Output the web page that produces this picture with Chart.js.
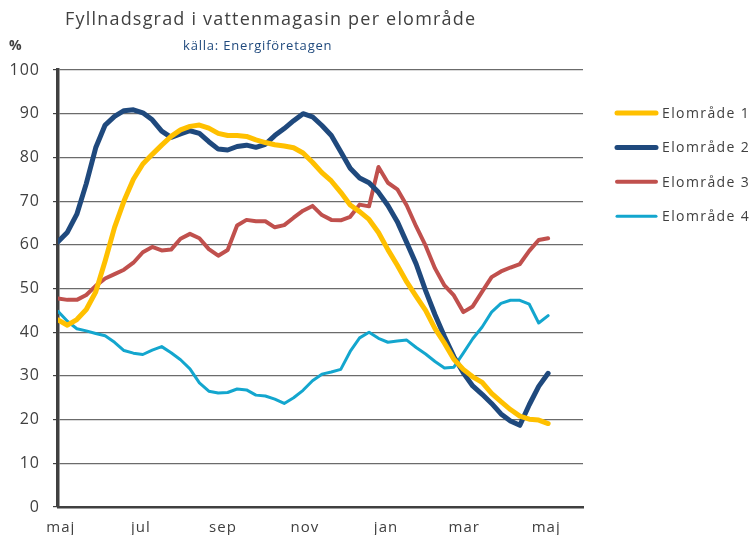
<!DOCTYPE html>
<html>
<head>
<meta charset="utf-8">
<script src="https://cdn.jsdelivr.net/npm/chart.js@4/dist/chart.umd.min.js"></script>
<style>
  html, body { margin: 0; padding: 0; background: #fff; }
  #wrap { width: 751px; height: 535px; position: relative; }
</style>
</head>
<body>
<div id="wrap"><canvas id="chart"></canvas></div>
<script>
// Fyllnadsgrad per vecka, maj -> maj (procent)
const seriesNames = ["Elområde 1", "Elområde 2", "Elområde 3", "Elområde 4"];

const elomrade1 = [42.8, 41.6, 42.9, 45.2, 49.2, 56.3, 64.0, 70.0, 75.0, 78.5,
  80.7, 82.8, 84.8, 86.3, 87.1, 87.4, 86.7, 85.5, 85.0, 85.0,
  84.8, 84.0, 83.4, 82.9, 82.6, 82.2, 81.0, 78.9, 76.5, 74.6,
  72.0, 69.1, 67.6, 65.8, 62.8, 58.9, 55.3, 51.5, 48.2, 45.0,
  40.8, 37.5, 33.8, 31.5, 29.8, 28.5, 26.0, 24.1, 22.3, 20.8,
  20.1, 19.9, 19.1];

const elomrade2 = [60.7, 62.9, 67.0, 74.0, 82.2, 87.4, 89.4, 90.7, 90.9, 90.2,
  88.6, 86.0, 84.6, 85.4, 86.1, 85.5, 83.6, 81.9, 81.7, 82.5,
  82.8, 82.3, 83.0, 85.0, 86.6, 88.4, 90.0, 89.3, 87.3, 85.0,
  81.3, 77.5, 75.3, 74.2, 72.0, 69.0, 65.3, 60.5, 55.6, 49.5,
  44.0, 39.0, 34.4, 30.7, 27.7, 25.8, 23.7, 21.3, 19.7, 18.7,
  23.4, 27.6, 30.6];

const elomrade3 = [47.7, 47.4, 47.4, 48.5, 50.6, 52.3, 53.3, 54.3, 55.9, 58.3,
  59.5, 58.7, 58.9, 61.4, 62.5, 61.5, 59.0, 57.5, 58.8, 64.4,
  65.7, 65.4, 65.4, 64.0, 64.5, 66.2, 67.8, 68.9, 66.8, 65.7,
  65.6, 66.4, 69.2, 68.8, 77.8, 74.2, 72.7, 69.0, 64.2, 59.8,
  54.6, 50.7, 48.4, 44.6, 45.9, 49.3, 52.6, 53.9, 54.8, 55.6,
  58.6, 61.1, 61.5];

const elomrade4 = [44.8, 42.5, 40.8, 40.3, 39.7, 39.2, 37.7, 35.8, 35.2, 34.9,
  35.9, 36.7, 35.3, 33.7, 31.6, 28.4, 26.5, 26.1, 26.2, 27.0,
  26.8, 25.6, 25.4, 24.7, 23.7, 25.0, 26.7, 28.9, 30.4, 30.9,
  31.5, 35.6, 38.7, 40.0, 38.6, 37.7, 38.0, 38.2, 36.5, 35.0,
  33.3, 31.8, 32.0, 35.2, 38.5, 41.2, 44.6, 46.6, 47.3, 47.3,
  46.4, 42.1, 43.8];

// månadsetiketter (position i veckor från start)
const monthTicks = [0.3, 8.8, 17.5, 26.2, 34.8, 43.1, 51.8];
const monthLabels = ["maj", "jul", "sep", "nov", "jan", "mar", "maj"];
const yTicks = [0, 10, 20, 30, 40, 50, 60, 70, 80, 90, 100];

const colors = ["#FFC000", "#1F497D", "#C0504D", "#13A6CE"];
const widths = [5, 5, 4, 3];
const textColor = "#404040";
const FONT = "'Open Sans', 'DejaVu Sans', sans-serif";

const toPoints = arr => arr.map((v, i) => ({ x: i, y: v }));
const allSeries = [elomrade1, elomrade2, elomrade3, elomrade4];

// titel, källa, % och legend
const decorPlugin = {
  id: "decor",
  beforeDraw(chart) {
    chart.ctx.letterSpacing = "1px";
  },
  afterDraw(chart) {
    const ctx = chart.ctx;
    ctx.save();
    ctx.letterSpacing = "1.2px";
    ctx.fillStyle = textColor;
    ctx.textBaseline = "alphabetic";
    ctx.textAlign = "left";
    ctx.font = "18px " + FONT;
    ctx.fillText("Fyllnadsgrad i vattenmagasin per elområde", 65, 25);

    ctx.letterSpacing = "0.8px";
    ctx.fillStyle = "#1F497D";
    ctx.font = "13px " + FONT;
    ctx.fillText("källa: Energiföretagen", 183, 50);

    ctx.fillStyle = textColor;
    ctx.font = "bold 14px " + FONT;
    ctx.letterSpacing = "0px";
    ctx.fillText("%", 9, 50);

    // legend
    ctx.letterSpacing = "1.4px";
    ctx.font = "14px " + FONT;
    ctx.textBaseline = "middle";
    chart.data.datasets.forEach((ds, i) => {
      const y = 113 + i * 34.4;
      ctx.strokeStyle = ds.borderColor;
      ctx.lineWidth = ds.borderWidth;
      ctx.lineCap = "round";
      ctx.beginPath();
      ctx.moveTo(617, y);
      ctx.lineTo(656, y);
      ctx.stroke();
      ctx.fillStyle = textColor;
      ctx.fillText(ds.label, 662, y + 1);
    });
    ctx.restore();
  }
};

new Chart(document.getElementById("chart"), {
  type: "line",
  data: {
    datasets: seriesNames.map((name, i) => ({
      label: name,
      data: toPoints(allSeries[i]),
      borderColor: colors[i],
      backgroundColor: colors[i],
      borderWidth: widths[i],
      pointRadius: 0,
      tension: 0,
      borderJoinStyle: "round",
      borderCapStyle: "round"
    }))
  },
  options: {
    responsive: true,
    maintainAspectRatio: false,
    animation: false,
    layout: { padding: { left: 0, top: 70, right: 168, bottom: 0 } },
    plugins: {
      legend: { display: false },
      tooltip: { enabled: false }
    },
    scales: {
      x: {
        type: "linear",
        min: 0,
        max: 55.7,
        afterBuildTicks: s => { s.ticks = monthTicks.map(v => ({ value: v })); },
        afterFit: s => { s.height = 28; },
        grid: { display: false, drawTicks: false },
        border: { display: true, color: "#404040", width: 2.5 },
        ticks: {
          padding: 12,
          color: textColor,
          font: { family: FONT, size: 15 },
          maxRotation: 0,
          autoSkip: false,
          callback: (v, idx) => monthLabels[idx]
        }
      },
      y: {
        min: 0,
        max: 100,
        afterBuildTicks: s => { s.ticks = yTicks.map(v => ({ value: v })); },
        afterFit: s => { s.width = 58; },
        grid: { color: "#6b6b6b", lineWidth: 1.2, drawTicks: true, tickLength: 5, tickColor: "#404040" },
        border: { display: true, color: "#404040", width: 3.5 },
        ticks: {
          padding: 13,
          color: textColor,
          font: { family: FONT, size: 16 }
        }
      }
    }
  },
  plugins: [decorPlugin]
});
</script>
</body>
</html>
